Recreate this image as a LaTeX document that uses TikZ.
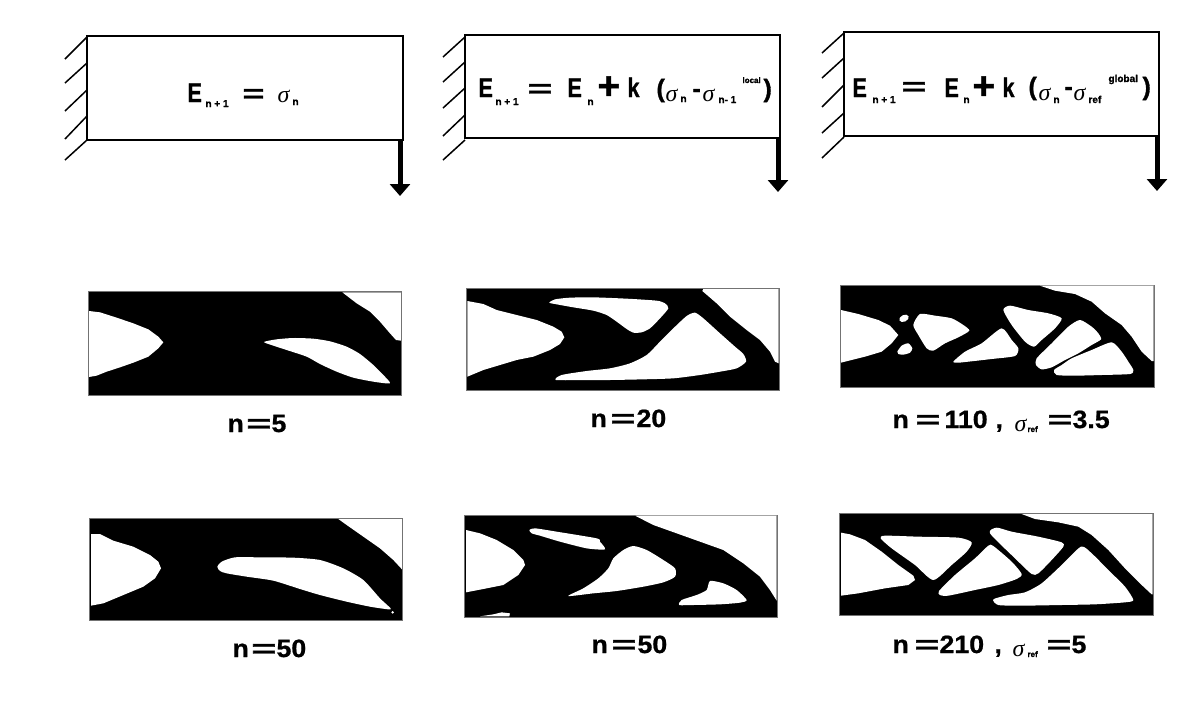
\documentclass[tikz,border=0pt]{standalone}
\usepackage{fontspec}
\usetikzlibrary{arrows.meta}
\setmainfont{Liberation Sans}
\newfontfamily\sigfont{Liberation Serif}
\newfontfamily\hv{Liberation Sans}[BoldFeatures={FakeBold=1.2},BoldFont={Liberation Sans Bold}]
\newfontfamily\hvw{Liberation Sans}[BoldFeatures={FakeBold=.8,FakeStretch=1.07},BoldFont={Liberation Sans Bold}]
\newcommand\pc[3]{\rlap{\hspace*{#1pt}\raisebox{#2pt}{#3}}}
\newcommand\fE{\fontsize{25}{25}\selectfont\hv\bfseries}
\newcommand\fB{\fontsize{27}{27}\selectfont\hv\bfseries}
\newcommand\fS{\fontsize{10}{10}\selectfont\hv\bfseries}
\newcommand\fT{\fontsize{8}{8}\selectfont\hv\bfseries}
\newcommand\fU{\fontsize{10}{10}\selectfont\hv\bfseries}
\newcommand\fG{\fontsize{24}{24}\selectfont\sigfont\itshape}
\newcommand\fL{\fontsize{25}{25}\selectfont\hvw\bfseries}
\newcommand\fO{\fontsize{25}{25}\selectfont\hv\bfseries}
\newcommand\wide[1]{\scalebox{1.7}[1]{#1}}
\newcommand\narrow[1]{\scalebox{.8}[1]{#1}}
\tikzset{
  x=1pt,y=-1pt,
  beam/.style={draw=black,line width=1.8pt,fill=white,inner sep=0pt,outer sep=0pt,anchor=north west},
  hatch/.style={line width=1.5pt,draw=black},
  load/.style={line width=5pt,draw=black,-{Triangle[width=20pt,length=12pt]},shorten <=0pt},
  eqn/.style={inner sep=0pt,outer sep=0pt,anchor=base west,text=black},
  capt/.style={inner sep=0pt,outer sep=0pt,anchor=base west,text=black},
  panel/.style={fill=black,draw=black!55,line width=.8pt},
  hole/.style={fill=white,draw=none},
}
\newcommand\blob[1]{\fill[hole] plot[smooth cycle,tension=.4] coordinates {#1};}
\newcommand\poly[1]{\fill[hole] plot coordinates {#1} -- cycle;}
\begin{document}
\begin{tikzpicture}
\useasboundingbox (0,0) rectangle (1200,705);
\fill[white] (0,0) rectangle (1200,705);
% --- beams
\node[beam,minimum width=316pt,minimum height=104pt] (b1) at (87,36) {};
\node[beam,minimum width=315pt,minimum height=103pt] (b2) at (465,35) {};
\node[beam,minimum width=315pt,minimum height=104pt] (b3) at (844,32) {};
% hatches
\foreach \ya/\yb in {37/59,63/83,90/111,116/139,140/160}
  \draw[hatch] (87,\ya) -- (65,\yb);
\foreach \ya/\yb in {37/57,62/82,88/108,115/136,140/160}
  \draw[hatch] (465,\ya) -- (443,\yb);
\foreach \ya/\yb in {33/53,58/78,85/107,113/133,137/158}
  \draw[hatch] (844,\ya) -- (822,\yb);
% loads
\coordinate (a1) at (400,140); \coordinate (t1) at (400,196);
\coordinate (a2) at (778,138); \coordinate (t2) at (778,192);
\coordinate (a3) at (1157,136); \coordinate (t3) at (1157,191);
\draw[load] (a1) -- (t1);
\draw[load] (a2) -- (t2);
\draw[load] (a3) -- (t3);
% --- equations
\node[eqn] (e1) at (187,102) {\pc{0}{0}{\fB\narrow{E}}\pc{18}{-5}{\fS n + 1}\pc{55}{0}{\fE\scalebox{1.5}[1]{=}}\pc{90}{0}{\fG σ}\pc{105}{-3}{\fS n}};
\node[eqn] (e2) at (478,97) {\pc{0}{0}{\fB\narrow{E}}\pc{17}{-8}{\fS n + 1}\pc{49}{0}{\fE\wide{=}}\pc{89}{0}{\fB\narrow{E}}\pc{109}{-8}{\fS n}\pc{119}{-2}{\fE\scalebox{1.55}{+}}\pc{149}{0}{\fB\narrow{k}}\pc{178}{0}{\fE (}\pc{187}{-4}{\fG σ}\pc{202}{-5}{\fS n}\pc{214}{0}{\fE -}\pc{224}{-4}{\fG σ}\pc{240}{-6}{\fS n- 1}\pc{264}{14}{\fT local}\pc{285}{0}{\fE )}};
\node[eqn] (e3) at (852,97) {\pc{0}{0}{\fB\narrow{E}}\pc{20}{-6}{\fS n + 1}\pc{49}{2}{\fE\wide{=}}\pc{92}{0}{\fB\narrow{E}}\pc{111}{-6}{\fS n}\pc{120}{-2}{\fE\scalebox{1.55}{+}}\pc{150}{0}{\fB\narrow{k}}\pc{176}{2}{\fE (}\pc{186}{-3}{\fG σ}\pc{201}{-6}{\fS n}\pc{212}{2}{\fE -}\pc{221}{-3}{\fG σ}\pc{236}{-6}{\fS ref}\pc{256}{15}{\fU global}\pc{290}{2}{\fE )}};
% --- topology panels
\begin{scope}[shift={(80,280)},scale=1/3]
\path[panel] (25,35) rectangle (965,345);
\poly{(787,37)(830,70)(870,95)(900,125)(930,160)(948,180)(963,182)(963,37)}
\poly{(27,93)(60,97)(110,113)(160,130)(205,148)(235,170)(250,187)(235,205)(205,230)(160,248)(120,262)(80,275)(50,287)(27,291)}
\blob{(552,186)(590,178)(640,174)(700,176)(750,184)(800,200)(840,222)(880,255)(910,285)(930,310)(880,305)(820,293)(770,275)(720,252)(680,230)(620,210)(580,197)}
\end{scope}
\begin{scope}[shift={(460,280)},scale=1/3]
\path[panel] (20,25) rectangle (958,330);
\poly{(727,33)(770,70)(810,110)(860,150)(900,180)(930,215)(945,245)(956,250)(956,27)(730,27)}
\poly{(22,63)(70,72)(110,90)(170,105)(230,120)(280,140)(305,155)(313,172)(300,192)(270,210)(220,230)(170,240)(110,258)(70,270)(22,290)}
\blob{(268,68)(285,58)(330,53)(400,52)(500,56)(590,62)(615,70)(625,85)(600,115)(570,145)(545,157)(520,158)(500,147)(470,125)(440,105)(400,92)(340,82)(290,73)}
\blob{(705,98)(730,115)(780,160)(825,200)(850,222)(858,245)(830,265)(780,275)(720,285)(640,295)(550,298)(450,300)(380,300)(288,300)(305,285)(380,273)(450,265)(510,250)(560,225)(600,185)(640,145)(680,108)}
\end{scope}
\begin{scope}[shift={(835,280)},scale=1/3]
\path[panel] (15,15) rectangle (958,322);
\poly{(615,17)(660,32)(720,42)(770,65)(810,100)(860,135)(890,170)(920,215)(950,243)(956,243)(956,17)}
\poly{(18,90)(70,102)(130,120)(165,137)(190,165)(170,190)(140,215)(90,230)(50,240)(18,248)}
\fill[hole,rotate around={25:(207,115)}] (207,115) ellipse [x radius=15,y radius=10];
\blob{(187,215)(200,197)(220,190)(232,205)(225,218)(205,224)(190,222)}
\blob{(235,135)(255,102)(300,107)(350,115)(385,135)(403,152)(370,172)(330,190)(295,212)(275,205)(250,165)}
\blob{(355,245)(390,215)(440,190)(500,145)(530,180)(550,205)(540,228)(470,237)(400,245)(370,248)}
\blob{(505,90)(525,77)(580,90)(640,100)(680,115)(660,145)(620,180)(597,200)(570,185)(530,135)}
\blob{(735,120)(770,140)(790,160)(798,178)(770,195)(730,220)(690,240)(650,262)(620,268)(603,255)(605,235)(650,190)(700,140)}
\blob{(830,187)(860,215)(880,245)(895,270)(885,282)(800,285)(720,287)(665,285)(657,270)(680,255)(710,235)(770,210)}
\end{scope}
\begin{scope}[shift={(80,510)},scale=1/3]
\path[panel] (27,25) rectangle (968,330);
\poly{(775,27)(800,45)(850,80)(900,115)(940,150)(966,178)(966,27)}
\poly{(33,72)(60,72)(100,92)(160,110)(210,135)(235,155)(243,175)(225,205)(190,230)(130,255)(70,280)(33,287)}
\blob{(412,170)(425,155)(465,142)(540,142)(640,143)(720,150)(790,175)(850,210)(900,265)(932,295)(925,298)(870,290)(800,275)(720,255)(660,237)(580,212)(500,200)(440,190)(420,183)}
\fill[hole] (938,307) circle [radius=4];
\end{scope}
\begin{scope}[shift={(460,505)},scale=1/3]
\path[panel] (12,30) rectangle (952,337);
\poly{(527,33)(580,60)(650,85)(720,110)(790,135)(850,175)(900,215)(930,255)(950,287)(950,32)(527,32)}
\poly{(18,75)(60,85)(110,105)(160,135)(190,165)(195,180)(175,210)(130,240)(70,252)(18,262)}
\blob{(208,75)(225,70)(290,80)(410,100)(420,110)(435,133)(380,130)(300,110)(240,92)(215,85)}
\blob{(520,123)(560,135)(610,165)(645,190)(645,215)(610,232)(550,245)(470,258)(400,265)(325,273)(370,250)(415,220)(445,190)(460,160)(490,135)}
\blob{(750,228)(790,235)(830,255)(860,285)(840,293)(780,298)(700,300)(658,300)(665,285)(710,270)(740,255)}
\poly{(60,334)(100,328)(125,322)(150,325)(148,334)}
\end{scope}
\begin{scope}[shift={(835,505)},scale=1/3]
\path[panel] (12,25) rectangle (955,330);
\poly{(560,27)(600,42)(670,52)(730,65)(770,90)(820,135)(870,190)(920,240)(950,268)(953,268)(953,27)}
\poly{(18,83)(45,88)(90,105)(140,140)(190,180)(235,212)(240,225)(220,240)(150,250)(70,265)(18,272)}
\blob{(137,100)(150,92)(250,95)(370,98)(410,112)(395,140)(350,180)(295,225)(240,180)(170,130)}
\blob{(460,122)(475,123)(530,170)(560,207)(545,222)(490,240)(420,255)(340,272)(315,270)(312,258)(360,210)(420,160)}
\blob{(465,85)(485,68)(530,80)(610,95)(680,112)(685,125)(650,165)(610,205)(590,207)(540,160)}
\blob{(738,125)(770,145)(820,195)(870,245)(895,285)(870,292)(780,298)(680,300)(560,302)(490,300)(475,283)(520,270)(570,262)(620,235)(680,180)}
\end{scope}
% --- captions
\node[capt] (c1) at (227,432) {\pc{0}{0}{\fL n}\pc{19}{0}{\fO\wide{=}}\pc{44}{0}{\fL 5}};
\node[capt] (c2) at (590,427) {\pc{0}{0}{\fL n}\pc{20}{0}{\fO\wide{=}}\pc{46}{0}{\fL 20}};
\node[capt] (c3) at (892,428) {\pc{0}{0}{\fL n}\pc{23}{0}{\fO\wide{=}}\pc{52}{0}{\fL 110}\pc{103}{0}{\fL ,}\pc{122}{-3}{\fG σ}\pc{135}{-4}{\fT ref}\pc{155}{0}{\fO\wide{=}}\pc{180}{0}{\fL 3.5}};
\node[capt] (c4) at (232,657) {\pc{0}{0}{\fL n}\pc{19}{0}{\fO\wide{=}}\pc{44}{0}{\fL 50}};
\node[capt] (c5) at (591,653) {\pc{0}{0}{\fL n}\pc{20}{0}{\fO\wide{=}}\pc{46}{0}{\fL 50}};
\node[capt] (c6) at (892,653) {\pc{0}{0}{\fL n}\pc{22}{0}{\fO\wide{=}}\pc{47}{0}{\fL 210}\pc{102}{0}{\fL ,}\pc{120}{-3}{\fG σ}\pc{135}{-4}{\fT ref}\pc{154}{0}{\fO\wide{=}}\pc{179}{0}{\fL 5}};
\end{tikzpicture}
\end{document}
